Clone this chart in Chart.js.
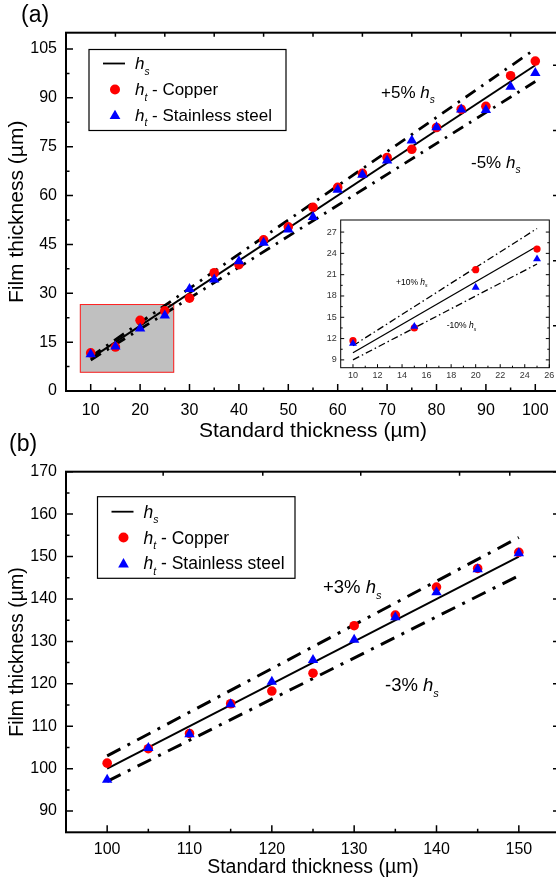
<!DOCTYPE html>
<html><head><meta charset="utf-8"><title>Film thickness vs standard thickness</title>
<script src="https://cdn.jsdelivr.net/npm/chart.js@4.4.1/dist/chart.umd.min.js"></script>
<style>
html,body{margin:0;padding:0;background:#fff;width:556px;height:879px;overflow:hidden;position:relative}
canvas{position:absolute;display:block}
</style></head><body>
<canvas id="ca" width="580" height="450" style="left:0;top:0;width:580px;height:450px"></canvas>
<canvas id="cb" width="580" height="459" style="left:0;top:420px;width:580px;height:459px"></canvas>
<canvas id="ci" width="258" height="185" style="left:300px;top:205px;width:258px;height:185px"></canvas>
<script>
const FONT = '"Liberation Sans", Arial, Helvetica, sans-serif';

// ---------- Panel (a) ----------
const standardA = [10,15,20,25,30,35,40,45,50,55,60,65,70,75,80,85,90,95,100];
const copperA   = [11.7,13.5,21.7,24.6,28.5,36.3,38.8,46.4,50.4,56.4,62.5,66.8,71.7,74.2,80.9,86.5,87.4,96.8,101.3];
const steelA    = [11.3,13.7,19.2,23.2,31.3,34.2,39.8,45.5,49.6,53.4,61.8,66.4,70.8,76.9,81.0,86.4,86.3,93.4,97.6];
const refXA     = [10,100];
const hsA       = [10,100];
const plus5A    = [10.5,105];
const minus5A   = [9.5,95];
const xRangeA   = [5,105];
const yRangeA   = [0,110];
const xTicksA   = [10,20,30,40,50,60,70,80,90,100];
const xMinorA   = [15,25,35,45,55,65,75,85,95];
const yTicksA   = [0,15,30,45,60,75,90,105];
const yMinorA   = [7.5,22.5,37.5,52.5,67.5,82.5,97.5];
const topTicksA = [15,25,35,45,55,65,75,85,95];
const rightMajorA = [20,40,60,80,100];
const rightMinorA = [10,30,50,70,90];
const zoomBoxX  = [7.8,26.9];
const zoomBoxY  = [5.6,26.7];

// ---------- Inset of (a) ----------
const standardIn = [10,15,20,25];
const copperIn   = [11.7,13.5,21.7,24.6];
const steelIn    = [11.3,13.7,19.2,23.2];
const refXIn     = [10,25];
const hsIn       = [10,25];
const plus10In   = [11,27.5];
const minus10In  = [9,22.5];
const xRangeIn   = [9,26];
const yRangeIn   = [7.9,28.7];
const xTicksIn   = [10,12,14,16,18,20,22,24,26];
const xMinorIn   = [11,13,15,17,19,21,23,25];
const yTicksIn   = [9,12,15,18,21,24,27];
const yMinorIn   = [10.5,13.5,16.5,19.5,22.5,25.5];

// ---------- Panel (b) ----------
const standardB = [100,105,110,115,120,125,130,135,140,145,150];
const copperB   = [101.3,104.7,108.3,115.3,118.3,122.5,133.7,136.2,142.8,147.2,151.0];
const steelB    = [97.4,104.9,108.1,115.2,120.5,125.6,130.4,135.7,141.6,147.0,150.8];
const refXB     = [100,150];
const hsB       = [100,150];
const plus3B    = [103,154.5];
const minus3B   = [97,145.5];
const xRangeB   = [95,155];
const yRangeB   = [85,170];
const xTicksB   = [100,110,120,130,140,150];
const xMinorB   = [105,115,125,135,145];
const yTicksB   = [90,100,110,120,130,140,150,160,170];
const yMinorB   = [95,105,115,125,135,145,155,165];
const topTicksB = [106.8,118.9,130.8,142.8,148.9];

// ---------- helpers ----------
function pts(xs, ys){ return xs.map((x,i)=>({x:x, y:ys[i]})); }
function lineSet(label, xs, ys, w, dash, order){
  return {label, data:pts(xs,ys), showLine:true, borderColor:'#000', backgroundColor:'#000',
    borderWidth:w, borderDash:dash, pointRadius:0, pointHoverRadius:0, order};
}
function markSet(label, xs, ys, style, color, r, order){
  return {label, data:pts(xs,ys), showLine:false, pointStyle:style, pointRadius:r, pointHoverRadius:r,
    backgroundColor:color, borderColor:color, borderWidth:0, pointBorderWidth:0, order};
}
function axes(c){
  const tf = {family:FONT, size:c.tickSize};
  return {
    x:{type:'linear', position:'bottom', min:c.xr[0], max:c.xr[1],
      afterBuildTicks:s=>{ s.ticks = c.xt.map(v=>({value:v})); },
      afterFit:s=>{ s.height = c.xh; },
      grid:{display:false, drawTicks:false}, border:{display:false},
      ticks:{font:tf, color:c.tickColor, padding:c.xpad, maxRotation:0, minRotation:0, autoSkip:false},
      title:{display:!!c.xtitle, text:c.xtitle||'', color:'#000', font:{family:FONT, size:c.titleSize},
        padding:{top:0, bottom:c.xtpad||0}}},
    y:{type:'linear', position:'left', min:c.yr[0], max:c.yr[1],
      afterBuildTicks:s=>{ s.ticks = c.yt.map(v=>({value:v})); },
      afterFit:s=>{ s.width = c.yw; },
      grid:{display:false, drawTicks:false}, border:{display:false},
      ticks:{font:tf, color:c.tickColor, padding:c.ypad, autoSkip:false},
      title:{display:!!c.ytitle, text:c.ytitle||'', color:'#000', font:{family:FONT, size:c.titleSize},
        padding:{top:c.ytpad||0, bottom:0}}}
  };
}
function drawFrame(chart, f){
  const ctx = chart.ctx, a = chart.chartArea, sx = chart.scales.x, sy = chart.scales.y;
  ctx.save();
  ctx.strokeStyle = '#000'; ctx.lineWidth = f.lw;
  ctx.strokeRect(a.left, a.top, a.right-a.left, a.bottom-a.top);
  ctx.lineWidth = f.tlw; ctx.beginPath();
  const X = v=>sx.getPixelForValue(v), Y = v=>sy.getPixelForValue(v);
  (f.bottom||[]).forEach(([vals,len])=>vals.forEach(v=>{const p=X(v); ctx.moveTo(p,a.bottom); ctx.lineTo(p,a.bottom-len);}));
  (f.top||[]).forEach(([vals,len])=>vals.forEach(v=>{const p=X(v); ctx.moveTo(p,a.top); ctx.lineTo(p,a.top+len);}));
  (f.left||[]).forEach(([vals,len])=>vals.forEach(v=>{const p=Y(v); ctx.moveTo(a.left,p); ctx.lineTo(a.left+len,p);}));
  (f.right||[]).forEach(([vals,len])=>vals.forEach(v=>{const p=Y(v); ctx.moveTo(a.right,p); ctx.lineTo(a.right-len,p);}));
  ctx.stroke(); ctx.restore();
}
// text like "+5% h_s" : prefix normal, italic h, italic subscript
function hText(ctx, x, y, prefix, sub, suffix, fs){
  ctx.save(); ctx.fillStyle='#000'; ctx.textAlign='left'; ctx.textBaseline='alphabetic';
  const base = y + fs*0.35;
  let cx = x;
  if (prefix){ ctx.font = fs+'px '+FONT; ctx.fillText(prefix, cx, base); cx += ctx.measureText(prefix).width; }
  ctx.font = 'italic '+fs+'px '+FONT; ctx.fillText('h', cx, base); cx += ctx.measureText('h').width;
  const ss = Math.round(fs*0.6*10)/10;
  ctx.font = 'italic '+ss+'px '+FONT; ctx.fillText(sub, cx, base + fs*0.3); cx += ctx.measureText(sub).width;
  if (suffix){ ctx.font = fs+'px '+FONT; ctx.fillText(suffix, cx, base); }
  ctx.restore();
}
function drawLegend(ctx, L){
  ctx.save();
  ctx.fillStyle='#fff'; ctx.fillRect(L.x, L.y, L.w, L.h);
  ctx.strokeStyle='#000'; ctx.lineWidth=1.2; ctx.strokeRect(L.x, L.y, L.w, L.h);
  const r1 = L.y+L.rows[0], r2 = L.y+L.rows[1], r3 = L.y+L.rows[2];
  ctx.lineWidth=1.8; ctx.beginPath(); ctx.moveTo(L.x+14, r1); ctx.lineTo(L.x+36, r1); ctx.stroke();
  ctx.fillStyle='#ff0000'; ctx.beginPath(); ctx.arc(L.x+26, r2, 5, 0, Math.PI*2); ctx.fill();
  const tr = 6.2, cy = r3+1;
  ctx.fillStyle='#0000ff'; ctx.beginPath();
  ctx.moveTo(L.x+26, cy-tr); ctx.lineTo(L.x+26+tr*0.866, cy+tr*0.5); ctx.lineTo(L.x+26-tr*0.866, cy+tr*0.5); ctx.closePath(); ctx.fill();
  ctx.restore();
  hText(ctx, L.x+46, r1, '', 's', '', L.fs);
  hText(ctx, L.x+46, r2, '', 't', ' - Copper', L.fs);
  hText(ctx, L.x+46, r3, '', 't', ' - Stainless steel', L.fs);
}
function panelLabel(ctx, txt, x, y, fs){
  ctx.save(); ctx.fillStyle='#000'; ctx.font = fs+'px '+FONT; ctx.textBaseline='middle'; ctx.textAlign='left';
  ctx.fillText(txt, x, y); ctx.restore();
}

Chart.defaults.font.family = FONT;
Chart.defaults.color = '#000';

// ---------- Chart (a) ----------
const decorA = {
  id:'decorA',
  beforeDatasetsDraw(chart){
    const ctx = chart.ctx, sx = chart.scales.x, sy = chart.scales.y;
    const x1 = sx.getPixelForValue(zoomBoxX[0]), x2 = sx.getPixelForValue(zoomBoxX[1]);
    const y1 = sy.getPixelForValue(zoomBoxY[1]), y2 = sy.getPixelForValue(zoomBoxY[0]);
    ctx.save(); ctx.fillStyle='#c0c0c0'; ctx.fillRect(x1, y1, x2-x1, y2-y1);
    ctx.strokeStyle='#ff2020'; ctx.lineWidth=1; ctx.strokeRect(x1+0.5, y1+0.5, x2-x1-1, y2-y1-1); ctx.restore();
  },
  afterDatasetsDraw(chart){
    drawFrame(chart, {lw:2, tlw:1.5,
      bottom:[[xTicksA,7],[xMinorA,3.5]], top:[[topTicksA,4]],
      left:[[yTicksA,7],[yMinorA,3.5]], right:[[rightMajorA,7],[rightMinorA,3.5]]});
  },
  afterDraw(chart){
    const ctx = chart.ctx;
    drawLegend(ctx, {x:89, y:49.5, w:197, h:81, rows:[14,40,65.5], fs:17});
    hText(ctx, 381, 92, '+5% ', 's', '', 17);
    hText(ctx, 471, 162, '-5% ', 's', '', 17);
    panelLabel(ctx, '(a)', 21, 16, 23);
  }
};
new Chart(document.getElementById('ca'), {
  type:'scatter',
  data:{datasets:[
    markSet('h_t - Stainless steel', standardA, steelA, 'triangle', '#0000ff', 6, 0),
    markSet('h_t - Copper', standardA, copperA, 'circle', '#ff0000', 4.8, 1),
    lineSet('h_s', refXA, hsA, 2, [], 2),
    lineSet('+5% h_s', refXA, plus5A, 2.8, [12,7,2.5,7], 3),
    lineSet('-5% h_s', refXA, minus5A, 2.8, [12,7,2.5,7], 3)
  ]},
  options:{responsive:false, devicePixelRatio:1, animation:false, events:[],
    layout:{padding:{top:32.7, left:0, right:20, bottom:0}},
    plugins:{legend:{display:false}, tooltip:{enabled:false}},
    scales:axes({xr:xRangeA, yr:yRangeA, xt:xTicksA, yt:yTicksA, xh:59, yw:66, tickSize:16, tickColor:'#000',
      xpad:9.5, ypad:9, titleSize:21, xtitle:'Standard thickness (µm)', ytitle:'Film thickness (µm)', xtpad:6.4, ytpad:5})
  },
  plugins:[decorA]
});

// ---------- Inset ----------
const decorIn = {
  id:'decorIn',
  beforeDatasetsDraw(chart){
    const a = chart.chartArea, ctx = chart.ctx;
    ctx.save(); ctx.fillStyle='#fff'; ctx.fillRect(a.left, a.top, a.right-a.left, a.bottom-a.top); ctx.restore();
  },
  afterDatasetsDraw(chart){
    drawFrame(chart, {lw:1, tlw:1,
      bottom:[[xTicksIn,3.5],[xMinorIn,2]], left:[[yTicksIn,3.5],[yMinorIn,2]], right:[[yTicksIn,3.5],[yMinorIn,2]]});
  },
  afterDraw(chart){
    const ctx = chart.ctx;
    hText(ctx, 396-300, 281.7-205, '+10% ', 's', '', 8.5);
    hText(ctx, 446.7-300, 325-205, '-10% ', 's', '', 8.5);
  }
};
new Chart(document.getElementById('ci'), {
  type:'scatter',
  data:{datasets:[
    markSet('h_t - Stainless steel', standardIn, steelIn, 'triangle', '#0000ff', 4.6, 0),
    markSet('h_t - Copper', standardIn, copperIn, 'circle', '#ff0000', 3.6, 1),
    lineSet('h_s', refXIn, hsIn, 1.3, [], 2),
    lineSet('+10% h_s', refXIn, plus10In, 1.3, [7,3,1.5,3], 3),
    lineSet('-10% h_s', refXIn, minus10In, 1.3, [7,3,1.5,3], 3)
  ]},
  options:{responsive:false, devicePixelRatio:1, animation:false, events:[],
    layout:{padding:{top:15, left:0, right:8.7, bottom:0}},
    plugins:{legend:{display:false}, tooltip:{enabled:false}},
    scales:axes({xr:xRangeIn, yr:yRangeIn, xt:xTicksIn, yt:yTicksIn, xh:22.3, yw:40.7, tickSize:9, tickColor:'#333',
      xpad:2, ypad:4, titleSize:9})
  },
  plugins:[decorIn]
});

// ---------- Chart (b) ----------
const OFFB = 420;
const decorB = {
  id:'decorB',
  afterDatasetsDraw(chart){
    drawFrame(chart, {lw:2, tlw:1.5,
      bottom:[[xTicksB,7],[xMinorB,3.5]], top:[[topTicksB,4]],
      left:[[yTicksB,7],[yMinorB,3.5]], right:[[yTicksB,7],[yMinorB,3.5]]});
  },
  afterDraw(chart){
    const ctx = chart.ctx;
    drawLegend(ctx, {x:97.5, y:496.7-OFFB, w:197.5, h:81.6, rows:[15,40.8,66.6], fs:17.5});
    hText(ctx, 323, 586.7-OFFB, '+3% ', 's', '', 18.5);
    hText(ctx, 385, 685-OFFB, '-3% ', 's', '', 18.5);
    panelLabel(ctx, '(b)', 9, 445-OFFB, 23);
  }
};
new Chart(document.getElementById('cb'), {
  type:'scatter',
  data:{datasets:[
    markSet('h_t - Stainless steel', standardB, steelB, 'triangle', '#0000ff', 6, 0),
    markSet('h_t - Copper', standardB, copperB, 'circle', '#ff0000', 4.8, 1),
    lineSet('h_s', refXB, hsB, 2, [], 2),
    lineSet('+3% h_s', refXB, plus3B, 3, [15,8,3,8], 3),
    lineSet('-3% h_s', refXB, minus3B, 3, [15,8,3,8], 3)
  ]},
  options:{responsive:false, devicePixelRatio:1, animation:false, events:[],
    layout:{padding:{top:471.7-OFFB, left:0, right:20, bottom:0}},
    plugins:{legend:{display:false}, tooltip:{enabled:false}},
    scales:axes({xr:xRangeB, yr:yRangeB, xt:xTicksB, yt:yTicksB, xh:46.7, yw:66, tickSize:16, tickColor:'#000',
      xpad:8, ypad:9, titleSize:19.5, xtitle:'Standard thickness (µm)', ytitle:'Film thickness (µm)', xtpad:0, ytpad:6.3})
  },
  plugins:[decorB]
});
</script></body></html>
